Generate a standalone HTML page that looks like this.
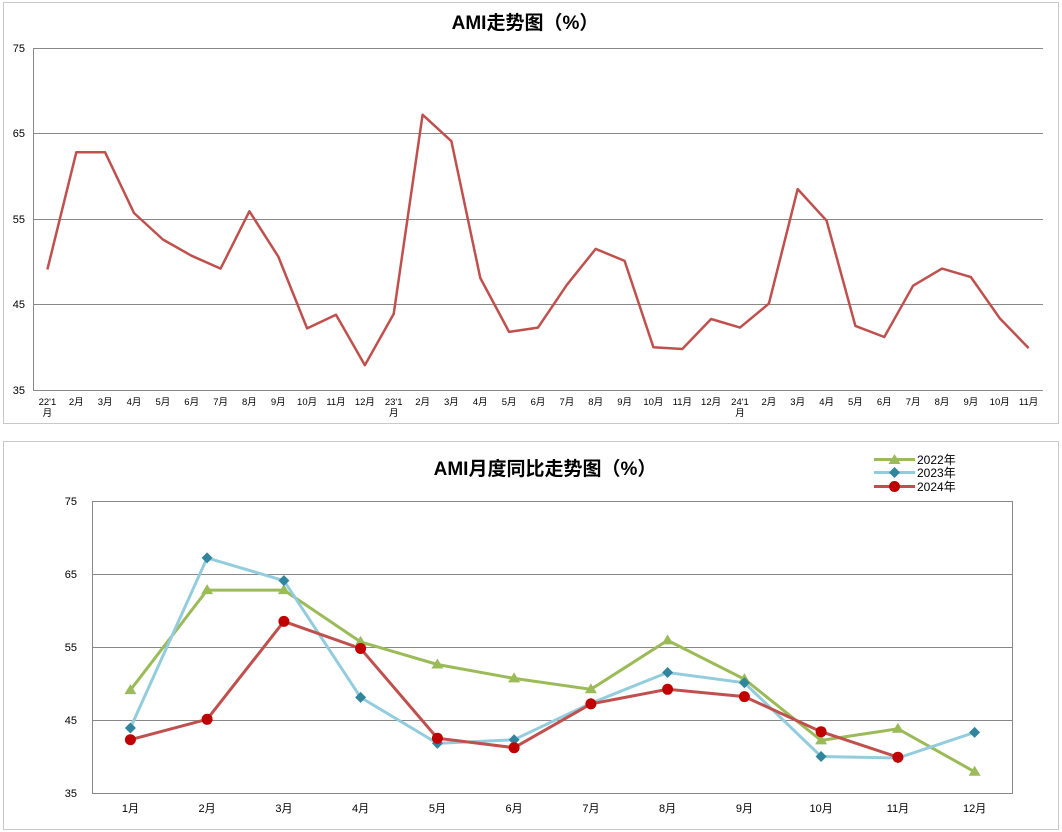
<!DOCTYPE html>
<html><head><meta charset="utf-8"><style>
body{margin:0;background:#fff;}
svg{display:block;font-family:"Liberation Sans","Noto Sans CJK SC",sans-serif;}
</style></head><body>
<svg width="1062" height="832" viewBox="0 0 1062 832">
<defs>
<g id="tri"><polygon points="0,-6 6,4 -6,4" fill="#9bbb59"/></g>
<g id="dia"><polygon points="0,-5.5 5.5,0 0,5.5 -5.5,0" fill="#31859c"/></g>
<g id="cir"><circle r="5.5" fill="#c00000"/></g>
</defs>
<!-- top chart -->
<rect x="3.5" y="2.5" width="1055" height="421" fill="#fff" stroke="#c8c8c8"/>
<text x="525" y="29" font-size="19" font-weight="bold" text-anchor="middle" fill="#000">AMI走势图（%）</text>
<g stroke="#888" stroke-width="1">
<line x1="33" y1="48.5" x2="1043" y2="48.5"/>
<line x1="33" y1="133.5" x2="1043" y2="133.5"/>
<line x1="33" y1="219.5" x2="1043" y2="219.5"/>
<line x1="33" y1="304.5" x2="1043" y2="304.5"/>
<line x1="33" y1="390.5" x2="1043" y2="390.5"/>
<line x1="33.5" y1="48" x2="33.5" y2="390"/>
</g>
<g font-size="11" text-anchor="end" fill="#000">
<text x="25" y="52">75</text><text x="25" y="137">65</text><text x="25" y="223">55</text><text x="25" y="308">45</text><text x="25" y="394">35</text>
</g>
<g font-size="9.5" text-anchor="middle" fill="#000">
<text x="47.4" y="405">22'1</text><text x="47.4" y="416">月</text>
<text x="76.3" y="405">2月</text><text x="105.1" y="405">3月</text><text x="134" y="405">4月</text><text x="162.9" y="405">5月</text><text x="191.7" y="405">6月</text><text x="220.6" y="405">7月</text><text x="249.4" y="405">8月</text><text x="278.3" y="405">9月</text><text x="307.1" y="405">10月</text><text x="336" y="405">11月</text><text x="364.9" y="405">12月</text>
<text x="393.7" y="405">23'1</text><text x="393.7" y="416">月</text>
<text x="422.6" y="405">2月</text><text x="451.4" y="405">3月</text><text x="480.3" y="405">4月</text><text x="509.1" y="405">5月</text><text x="538" y="405">6月</text><text x="566.9" y="405">7月</text><text x="595.7" y="405">8月</text><text x="624.6" y="405">9月</text><text x="653.4" y="405">10月</text><text x="682.3" y="405">11月</text><text x="711.1" y="405">12月</text>
<text x="740" y="405">24'1</text><text x="740" y="416">月</text>
<text x="768.9" y="405">2月</text><text x="797.7" y="405">3月</text><text x="826.6" y="405">4月</text><text x="855.4" y="405">5月</text><text x="884.3" y="405">6月</text><text x="913.1" y="405">7月</text><text x="942" y="405">8月</text><text x="970.9" y="405">9月</text><text x="999.7" y="405">10月</text><text x="1028.6" y="405">11月</text>
</g>
<polyline fill="none" stroke="#c0504d" stroke-width="2.5" stroke-linejoin="round" points="47.4,269.4 76.3,152.3 105.1,152.3 134,213 162.9,239.5 191.7,255.8 220.6,268.6 249.4,211.3 278.3,256.6 307.1,328.4 336,314.8 364.9,365.2 393.7,313.9 422.6,114.7 451.4,141.2 480.3,278 509.1,331.9 538,327.6 566.9,284.8 595.7,248.9 624.6,260.9 653.4,347.2 682.3,349 711.1,319 740,327.6 768.9,303.6 797.7,189.1 826.6,220.7 855.4,325.9 884.3,337 913.1,285.7 942,268.6 970.9,277.1 999.7,318.2 1028.6,348.1"/>

<!-- bottom chart -->
<rect x="3.5" y="441.5" width="1055" height="388" fill="#fff" stroke="#c8c8c8"/>
<text x="545" y="475" font-size="19" font-weight="bold" text-anchor="middle" fill="#000">AMI月度同比走势图（%）</text>
<g stroke="#888" stroke-width="1">
<line x1="92" y1="501.5" x2="1013" y2="501.5"/>
<line x1="92" y1="574.5" x2="1013" y2="574.5"/>
<line x1="92" y1="647.5" x2="1013" y2="647.5"/>
<line x1="92" y1="720.5" x2="1013" y2="720.5"/>
<line x1="92" y1="793.5" x2="1013" y2="793.5"/>
<line x1="92.5" y1="501" x2="92.5" y2="793"/>
<line x1="1012.5" y1="501" x2="1012.5" y2="793"/>
</g>
<g font-size="11" text-anchor="end" fill="#000">
<text x="77" y="505">75</text><text x="77" y="578">65</text><text x="77" y="651">55</text><text x="77" y="724">45</text><text x="77" y="797">35</text>
</g>
<g font-size="11" text-anchor="middle" fill="#000">
<text x="130.4" y="812">1月</text><text x="207.1" y="812">2月</text><text x="283.9" y="812">3月</text><text x="360.6" y="812">4月</text><text x="437.4" y="812">5月</text><text x="514.1" y="812">6月</text><text x="590.9" y="812">7月</text><text x="667.6" y="812">8月</text><text x="744.4" y="812">9月</text><text x="821.1" y="812">10月</text><text x="897.9" y="812">11月</text><text x="974.6" y="812">12月</text>
</g>
<polyline fill="none" stroke="#9bbb59" stroke-width="3" points="130.4,690.1 207.1,590.1 283.9,590.1 360.6,641.9 437.4,664.5 514.1,678.4 590.9,689.3 667.6,640.4 744.4,679.1 821.1,740.4 897.9,728.8 974.6,771.8"/>
<polyline fill="none" stroke="#93cddd" stroke-width="3" points="130.4,728 207.1,557.9 283.9,580.6 360.6,697.4 437.4,743.4 514.1,739.7 590.9,703.2 667.6,672.5 744.4,682.8 821.1,756.5 897.9,758 974.6,732.4"/>
<polyline fill="none" stroke="#c0504d" stroke-width="3" points="130.4,739.7 207.1,719.3 283.9,621.4 360.6,648.5 437.4,738.2 514.1,747.7 590.9,703.9 667.6,689.3 744.4,696.6 821.1,731.7 897.9,757.2"/>
<g>
<use href="#tri" x="130.4" y="690.1"/><use href="#tri" x="207.1" y="590.1"/><use href="#tri" x="283.9" y="590.1"/><use href="#tri" x="360.6" y="641.9"/><use href="#tri" x="437.4" y="664.5"/><use href="#tri" x="514.1" y="678.4"/><use href="#tri" x="590.9" y="689.3"/><use href="#tri" x="667.6" y="640.4"/><use href="#tri" x="744.4" y="679.1"/><use href="#tri" x="821.1" y="740.4"/><use href="#tri" x="897.9" y="728.8"/><use href="#tri" x="974.6" y="771.8"/>
<use href="#dia" x="130.4" y="728"/><use href="#dia" x="207.1" y="557.9"/><use href="#dia" x="283.9" y="580.6"/><use href="#dia" x="360.6" y="697.4"/><use href="#dia" x="437.4" y="743.4"/><use href="#dia" x="514.1" y="739.7"/><use href="#dia" x="590.9" y="703.2"/><use href="#dia" x="667.6" y="672.5"/><use href="#dia" x="744.4" y="682.8"/><use href="#dia" x="821.1" y="756.5"/><use href="#dia" x="897.9" y="758"/><use href="#dia" x="974.6" y="732.4"/>
<use href="#cir" x="130.4" y="739.7"/><use href="#cir" x="207.1" y="719.3"/><use href="#cir" x="283.9" y="621.4"/><use href="#cir" x="360.6" y="648.5"/><use href="#cir" x="437.4" y="738.2"/><use href="#cir" x="514.1" y="747.7"/><use href="#cir" x="590.9" y="703.9"/><use href="#cir" x="667.6" y="689.3"/><use href="#cir" x="744.4" y="696.6"/><use href="#cir" x="821.1" y="731.7"/><use href="#cir" x="897.9" y="757.2"/>
</g>
<!-- legend -->
<line x1="874" y1="459.5" x2="915" y2="459.5" stroke="#9bbb59" stroke-width="3"/><use href="#tri" x="894.5" y="460"/>
<line x1="874" y1="472.5" x2="915" y2="472.5" stroke="#93cddd" stroke-width="3"/><use href="#dia" x="894.5" y="472.5"/>
<line x1="874" y1="486.5" x2="915" y2="486.5" stroke="#c0504d" stroke-width="3"/><use href="#cir" x="894.5" y="486.5"/>
<g font-size="12" fill="#000">
<text x="917" y="464">2022年</text><text x="917" y="477">2023年</text><text x="917" y="491">2024年</text>
</g>
</svg>
</body></html>
